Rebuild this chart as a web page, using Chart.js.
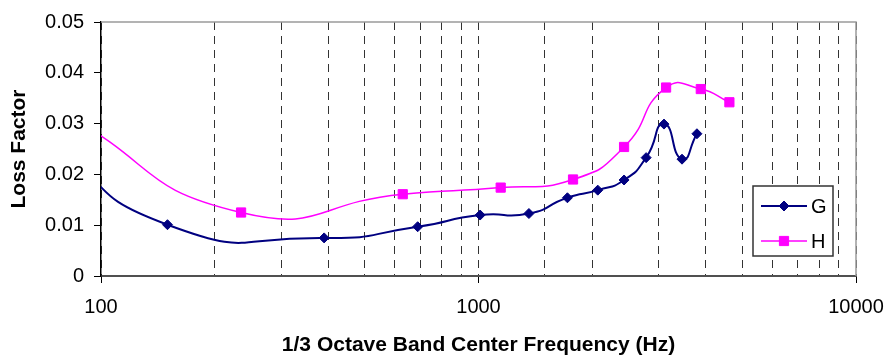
<!DOCTYPE html>
<html>
<head>
<meta charset="utf-8">
<title>Loss Factor</title>
<script src="https://cdn.jsdelivr.net/npm/chart.js@4.4.1/dist/chart.umd.min.js"></script>
<style>
  html, body { margin: 0; padding: 0; background: #fff; }
  #wrap { width: 889px; height: 358px; }
</style>
</head>
<body>
<div id="wrap"><canvas id="lossChart" width="889" height="358"></canvas></div>
<script>
// Band centre frequencies (Hz) and measured loss factors.
// The first entry of each series lies below 100 Hz, so only its curve shows.
const gFreq = [70, 150, 390, 690, 1010, 1360, 1720, 2070, 2430, 2780, 3100, 3460, 3790];
const gLoss = [0.028, 0.0101, 0.0075, 0.0097, 0.0120, 0.0123, 0.0154, 0.0169, 0.0189, 0.0233, 0.0299, 0.0230, 0.0280];
const hFreq = [80, 235, 630, 1145, 1780, 2430, 3140, 3880, 4620];
const hLoss = [0.032, 0.0125, 0.0161, 0.0174, 0.0190, 0.0254, 0.0371, 0.0368, 0.0342];

const xTickLabels = [100, 1000, 10000];
const yTicks = [0, 0.01, 0.02, 0.03, 0.04, 0.05];

const fontFamily = "'Liberation Sans', Arial, sans-serif";

function toPoints(xs, ys) {
    return xs.map((x, i) => ({ x: x, y: ys[i] }));
}

function isDecade(v) {
    const e = Math.log10(v);
    return Math.abs(e - Math.round(e)) < 1e-9;
}

// grey frame round the plot area (top and right sides show)
const plotFrame = {
    id: 'plotFrame',
    beforeDatasetsDraw(chart) {
        const { ctx, chartArea: a } = chart;
        ctx.save();
        ctx.strokeStyle = '#9a9a9a';
        ctx.lineWidth = 1.5;
        ctx.beginPath();
        ctx.moveTo(a.left, a.top);
        ctx.lineTo(a.right, a.top);
        ctx.lineTo(a.right, a.bottom);
        ctx.stroke();
        ctx.restore();
    }
};

// boxed legend sitting inside the plot, lower right
const boxLegend = {
    id: 'boxLegend',
    afterDatasetsDraw(chart) {
        const { ctx, chartArea: a } = chart;
        const w = 80, h = 70;
        const x = a.right - 23 - w, y = 186;
        ctx.save();
        ctx.fillStyle = '#fff';
        ctx.fillRect(x, y, w, h);
        ctx.strokeStyle = '#333';
        ctx.lineWidth = 1.5;
        ctx.strokeRect(x, y, w, h);
        chart.data.datasets.forEach((ds, i) => {
            const cy = y + 20 + i * 35;
            ctx.strokeStyle = ds.borderColor;
            ctx.lineWidth = ds.borderWidth;
            ctx.beginPath();
            ctx.moveTo(x + 8, cy);
            ctx.lineTo(x + 54, cy);
            ctx.stroke();
            ctx.fillStyle = ds.backgroundColor;
            ctx.strokeStyle = ds.borderColor;
            ctx.lineWidth = 1;
            Chart.helpers.drawPoint(ctx, {
                pointStyle: ds.pointStyle,
                radius: ds.pointRadius[1],
                borderWidth: 1
            }, x + 31, cy);
            ctx.fillStyle = '#000';
            ctx.font = '20px ' + fontFamily;
            ctx.textBaseline = 'middle';
            ctx.textAlign = 'left';
            ctx.fillText(ds.label, x + 58, cy + 1);
        });
        ctx.restore();
    }
};

const ctxLoss = document.getElementById('lossChart').getContext('2d');
new Chart(ctxLoss, {
    type: 'line',
    data: {
        datasets: [{
            label: 'G',
            data: toPoints(gFreq, gLoss),
            borderColor: '#000080',
            backgroundColor: '#000080',
            borderWidth: 2,
            pointStyle: 'rectRot',
            pointRadius: gFreq.map(f => f < 100 ? 0 : 5),
            pointBorderWidth: 1,
            tension: 0.6
        }, {
            label: 'H',
            data: toPoints(hFreq, hLoss),
            borderColor: '#ff00ff',
            backgroundColor: '#ff00ff',
            borderWidth: 1.5,
            pointStyle: 'rect',
            pointRadius: hFreq.map(f => f < 100 ? 0 : 6.5),
            pointBorderWidth: 1,
            tension: 0.55
        }]
    },
    options: {
        responsive: false,
        animation: false,
        devicePixelRatio: 1,
        layout: { padding: { top: 20, right: 33, left: 0, bottom: 0 } },
        plugins: {
            legend: { display: false },
            tooltip: { enabled: false }
        },
        scales: {
            x: {
                type: 'logarithmic',
                min: 100,
                max: 10000,
                afterFit: scale => {
                    scale.height = 82;
                    scale.paddingLeft = 0;
                    scale.paddingRight = 0;
                },
                border: { display: true, color: '#505050', width: 2, dash: [8, 6] },
                grid: {
                    color: '#333',
                    lineWidth: 1,
                    drawTicks: true,
                    tickLength: 7,
                    tickBorderDash: [],
                    tickWidth: 1,
                    tickColor: c => (c.tick && isDecade(c.tick.value)) ? '#000' : 'rgba(0,0,0,0)'
                },
                ticks: {
                    autoSkip: false,
                    maxRotation: 0,
                    padding: 12,
                    color: '#000',
                    font: { family: fontFamily, size: 20 },
                    callback: v => xTickLabels.includes(v) ? String(v) : ''
                },
                title: {
                    display: true,
                    text: '1/3 Octave Band Center Frequency (Hz)',
                    color: '#000',
                    font: { family: fontFamily, size: 21, weight: 'bold' },
                    padding: { top: 0, bottom: 0 }
                }
            },
            y: {
                min: 0,
                max: 0.05,
                afterFit: scale => { scale.width = 101; },
                afterBuildTicks: scale => { scale.ticks = yTicks.map(v => ({ value: v })); },
                border: { display: true, color: '#000', width: 1.5 },
                grid: {
                    drawOnChartArea: false,
                    drawTicks: true,
                    tickLength: 7,
                    tickColor: '#000'
                },
                ticks: {
                    padding: 10,
                    color: '#000',
                    font: { family: fontFamily, size: 20 },
                    callback: v => String(v)
                },
                title: {
                    display: true,
                    text: 'Loss Factor',
                    color: '#000',
                    font: { family: fontFamily, size: 21, weight: 'bold' },
                    padding: { top: 7, bottom: 0 }
                }
            }
        }
    },
    plugins: [plotFrame, boxLegend]
});
</script>
</body>
</html>
